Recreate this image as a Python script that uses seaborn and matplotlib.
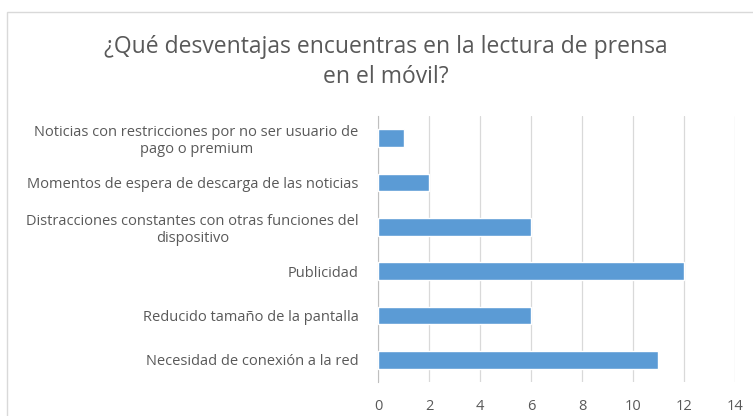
import matplotlib
matplotlib.use("Agg")
import matplotlib.pyplot as plt
import seaborn as sns
import pandas as pd
from matplotlib.patches import Rectangle

categories = [
    "Noticias con restricciones por no ser usuario de\npago o premium",
    "Momentos de espera de descarga de las noticias",
    "Distracciones constantes con otras funciones del\ndispositivo",
    "Publicidad",
    "Reducido tamaño de la pantalla",
    "Necesidad de conexión a la red",
]
values = [1, 2, 6, 12, 6, 11]
xticks = [0, 2, 4, 6, 8, 10, 12, 14]

df = pd.DataFrame({"cat": categories, "val": values})

sns.set_style("white")
plt.rcParams["font.family"] = ["Open Sans", "DejaVu Sans"]
text_col = "#595959"

fig = plt.figure(figsize=(7.53, 4.16), dpi=100)
ax = fig.add_axes([0.502, 0.082, 0.474, 0.639])

sns.barplot(data=df, x="val", y="cat", color="#5B9BD5", width=0.4,
            saturation=1, ax=ax, zorder=3)

ax.set_xlim(0, 14)
ax.set_ylim(5.5, -0.5)
ax.set_xticks(xticks)
ax.set_xticklabels([str(t) for t in xticks], color=text_col, fontsize=10.5)
ax.tick_params(axis="x", length=0, pad=12)
ax.tick_params(axis="y", length=0, pad=14)
for lbl in ax.get_yticklabels():
    lbl.set_color(text_col)
    lbl.set_fontsize(10.5)
    lbl.set_multialignment("center")
ax.set_yticks([i + 0.5 for i in range(-1, 6)], minor=True)
ax.tick_params(axis="y", which="minor", length=5, color="#BFBFBF", width=1)
ax.set_xlabel("")
ax.set_ylabel("")
ax.grid(axis="x", color="#D9D9D9", linewidth=0.9, zorder=0)
for s in ["top", "right", "bottom"]:
    ax.spines[s].set_visible(False)
ax.spines["left"].set_color("#BFBFBF")

fig.text(0.512, 0.851, "¿Qué desventajas encuentras en la lectura de prensa\nen el móvil?",
         ha="center", va="center", fontsize=16.5, color=text_col, linespacing=1.3)

fig.patches.append(Rectangle((7 / 753, -0.1), 1.1, 1 - 12 / 416 + 0.1,
                             transform=fig.transFigure, fill=False,
                             edgecolor="#D9D9D9", linewidth=1))

fig.savefig("out.png", dpi=100)
